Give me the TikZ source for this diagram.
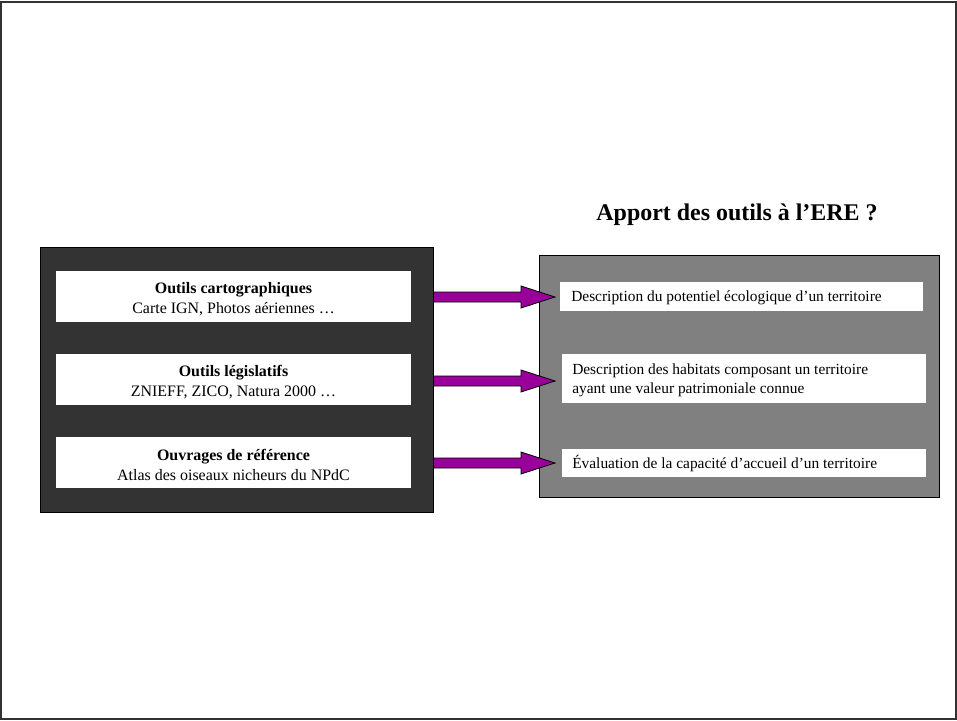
\documentclass[tikz,border=0pt]{standalone}
\usepackage{fontspec}
\setmainfont{Liberation Serif}
\def\pu{0.75235pt}
\definecolor{darkfill}{HTML}{333333}
\definecolor{grayfill}{HTML}{808080}
\definecolor{arrowpurple}{HTML}{990099}
\tikzset{
  frameline/.style={draw=black!80, line width=2*\pu},
  darkbox/.style={fill=darkfill, draw=black, line width=1*\pu},
  graybox/.style={fill=grayfill, draw=black, line width=1*\pu},
  lbox/.style={fill=white, draw=none, minimum width=355*\pu, minimum height=51*\pu, inner sep=0pt},
  ltext/.style={inner sep=0pt, align=center, font=\fontsize{12}{14.6}\selectfont},
  rbox/.style={fill=white, draw=none, inner sep=0pt, anchor=west},
  rtext/.style={inner sep=0pt, align=left, anchor=west, font=\fontsize{11.6}{14.6}\selectfont},
  fatarrow/.style={fill=arrowpurple, draw=black, line width=0.8*\pu, line join=miter},
  titletext/.style={font=\fontsize{18}{21.6}\selectfont\bfseries, inner sep=0pt}
}
\begin{document}
\begin{tikzpicture}[x=0.75235pt, y=-0.75235pt]
\useasboundingbox (0,0) rectangle (957,720);
% outer frame
\draw[frameline] (1,1.5) rectangle (955.5,718.5);
% containers
\draw[darkbox] (40.5,247.5) rectangle (433.5,512.5);
\draw[graybox] (539.5,255.5) rectangle (939.5,497.5);
% title
\node[titletext] (title) at (737,215) {Apport des outils à l’ERE ?};
% left boxes
\node[lbox] (l1) at (233.5,296.5) {};
\node[lbox] (l2) at (233.5,379.5) {};
\node[lbox] (l3) at (233.5,462.5) {};
\node[ltext] (l1t) at ([yshift=-2.5*\pu]l1.center) {\textbf{Outils cartographiques}\\Carte IGN, Photos aériennes …};
\node[ltext] (l2t) at ([yshift=-2.5*\pu]l2.center) {\textbf{Outils législatifs}\\ZNIEFF, ZICO, Natura 2000 …};
\node[ltext] (l3t) at ([yshift=-2.5*\pu]l3.center) {\textbf{Ouvrages de référence}\\Atlas des oiseaux nicheurs du NPdC};
% right boxes
\node[rbox, minimum width=363*\pu, minimum height=29*\pu] (r1) at (560,296.5) {};
\node[rbox, minimum width=364*\pu, minimum height=49*\pu] (r2) at (562,378.5) {};
\node[rbox, minimum width=364*\pu, minimum height=28*\pu] (r3) at (562,463) {};
\node[rtext] (r1t) at ([xshift=11*\pu, yshift=-1*\pu]r1.west) {Description du potentiel écologique d’un territoire};
\node[rtext] (r2t) at ([xshift=10*\pu, yshift=-2*\pu]r2.west) {Description des habitats composant un territoire\\ayant une valeur patrimoniale connue};
\node[rtext] (r3t) at ([xshift=10*\pu, yshift=-1*\pu]r3.west) {Évaluation de la capacité d’accueil d’un territoire};
% arrows
\coordinate (s1) at (433.5,297);
\coordinate (t1) at (555,297);
\coordinate (s2) at (433.5,381);
\coordinate (t2) at (555,381);
\coordinate (s3) at (433.5,463);
\coordinate (t3) at (555,463);
\foreach \s/\t in {s1/t1,s2/t2,s3/t3}{
  \draw[fatarrow] (\s) ++(0,-5) -- ([xshift=-34*\pu, yshift=5*\pu]\t)
    -- ([xshift=-34*\pu, yshift=11*\pu]\t) -- (\t)
    -- ([xshift=-34*\pu, yshift=-11*\pu]\t) -- ([xshift=-34*\pu, yshift=-5*\pu]\t)
    -- ([yshift=-5*\pu]\s) -- cycle;
}
\end{tikzpicture}
\end{document}
